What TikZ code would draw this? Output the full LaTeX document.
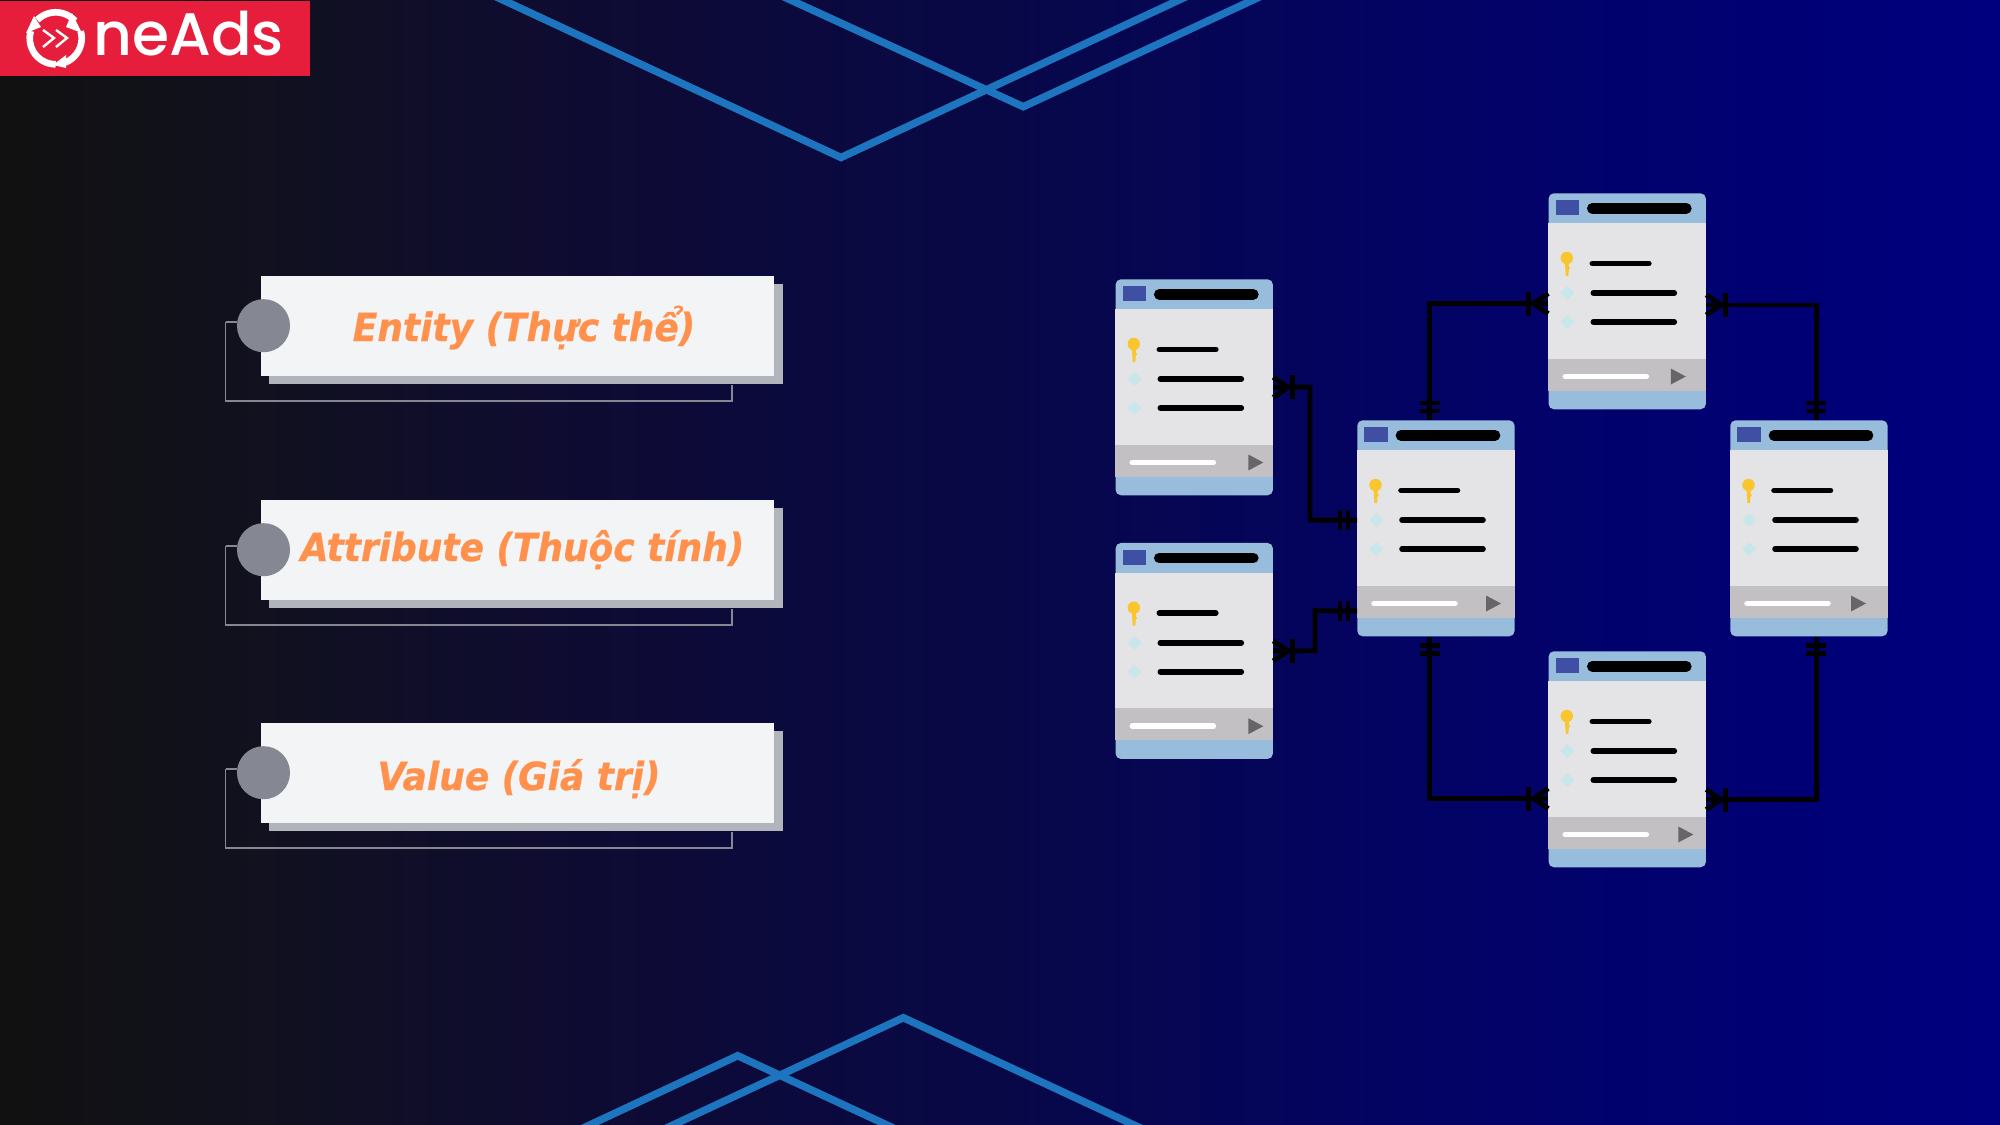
\documentclass[tikz,border=0pt]{standalone}
\usepackage{fontspec}
\usetikzlibrary{calc}
\newfontfamily\cardfont[FakeStretch=0.93,BoldItalicFeatures={FakeBold=0.7}]{DejaVu Sans}
\newfontfamily\logofont{Poppins Medium}

\definecolor{linkblue}{RGB}{28,117,190}
\definecolor{logored}{RGB}{230,30,60}
\definecolor{cardwhite}{RGB}{243,244,246}
\definecolor{cardshade}{RGB}{178,180,187}
\definecolor{cardgrey}{RGB}{133,136,147}
\definecolor{cardorange}{RGB}{255,145,77}
\definecolor{tabhead}{RGB}{151,188,220}
\definecolor{tabbody}{RGB}{228,227,229}
\definecolor{tabfoot}{RGB}{194,192,194}
\definecolor{tabsquare}{RGB}{63,79,163}
\definecolor{tabkey}{RGB}{251,197,45}
\definecolor{tabgem}{RGB}{200,231,234}
\definecolor{tabplay}{RGB}{102,102,102}

\pgfdeclarehorizontalshading{slidebg}{100bp}{
 rgb(0bp)=(0.067,0.067,0.067);
 rgb(25bp)=(0.067,0.067,0.067);
 rgb(31bp)=(0.067,0.067,0.118);
 rgb(40bp)=(0.055,0.043,0.2);
 rgb(50bp)=(0.031,0.031,0.28);
 rgb(60bp)=(0.012,0.012,0.39);
 rgb(70bp)=(0,0,0.46);
 rgb(75bp)=(0,0,0.5);
 rgb(100bp)=(0,0,0.5)}

\tikzset{
 deco/.style={draw=linkblue, line width=5.6pt, miter limit=10},
 cardbox/.style={fill=cardwhite, anchor=north west, inner sep=0pt, minimum width=385pt, minimum height=74.8pt},
 cardback/.style={fill=cardshade, anchor=north west, inner sep=0pt, minimum width=385pt, minimum height=75pt},
 cardtext/.style={anchor=base, inner sep=0pt, text=cardorange, font=\cardfont\bfseries\itshape\fontsize{29pt}{32pt}\selectfont},
 carddot/.style={fill=cardgrey, circle, inner sep=0pt, minimum size=39.8pt},
 cardline/.style={draw=cardgrey, line width=0.8pt},
 tabbox/.style={anchor=north west, inner sep=0pt, minimum width=118pt, minimum height=162pt, rounded corners=4pt, fill=tabhead},
 relline/.style={draw=black, line width=3.7pt},
 relbar/.style={draw=black, line width=3.6pt},
 relprong/.style={draw=black, line width=3.6pt},
}

% one table of the schema: name, left, top, offset of the play mark
\newcommand{\dbtable}[4]{
 \node[tabbox] (#1) at (#2,#3) {};
 \begin{scope}[shift={(#2,#3)}]
 \fill[tabbody] (0,30) rectangle (157.5,165.5);
 \fill[tabfoot] (0,165.5) rectangle (157.5,197.5);
 \fill[tabsquare] (7.3,7.3) rectangle (30.6,22);
 \draw[line width=8pt, line cap=round] (44,15.3) -- (138,15.3);
 \draw[line width=4.2pt, line cap=round] (44,70.5) -- (100.5,70.5);
 \draw[line width=4.2pt, line cap=round] (45,100) -- (126,100);
 \draw[line width=4.2pt, line cap=round] (45,129) -- (126,129);
 \draw[white, line width=4.2pt, line cap=round] (17,183.5) -- (98,183.5);
 \fill[tabplay] (#4,175.5) -- (#4+15,183.5) -- (#4,191.5) -- cycle;
 \fill[tabgem] (19,93) -- (26,100) -- (19,107) -- (12,100) -- cycle;
 \fill[tabgem] (19,122) -- (26,129) -- (19,136) -- (12,129) -- cycle;
 \fill[tabkey] (18.5,65) circle (6.2);
 \fill[tabkey] (16.5,69) -- (20.5,69) -- (20.5,74) -- (22,75) -- (20.5,76.5) -- (20,83) -- (17.5,83) -- cycle;
 \end{scope}
}
% the many side and the one side of a relation, turned away from the table
\newcommand{\manyend}[2]{
 \draw[relprong, shift={(#1)}, rotate=#2] (0,-10) -- (15,0) -- (0,10);
 \draw[relbar, shift={(#1)}, rotate=#2] (19.5,-12) -- (19.5,12);
}
\newcommand{\oneend}[2]{
 \draw[relbar, line width=3.2pt, shift={(#1)}, rotate=#2] (9,-10) -- (9,10);
 \draw[relbar, line width=3.2pt, shift={(#1)}, rotate=#2] (17,-10) -- (17,10);
}

\begin{document}
\begin{tikzpicture}[x=0.75pt,y=0.75pt,yscale=-1,xscale=1]
\useasboundingbox (0,0) rectangle (2000,1125);
\clip (0,0) rectangle (2000,1125);
\shade[shading=slidebg] (0,0) rectangle (2000,1125);

% Background lines
\draw[deco] (460,-20) -- (841,157.5) -- (1222,-20);
\draw[deco] (747,-20) -- (1023.3,106.7) -- (1296,-20);
\draw[deco] (547,1145) -- (737.7,1055.7) -- (930,1145);
\draw[deco] (630,1145) -- (903.3,1017.7) -- (1177,1145);

% Logo
\fill[logored] (0,1) rectangle (310,76);
\node[anchor=base west, inner sep=0pt, text=white, font=\logofont\fontsize{45pt}{50pt}\selectfont] (logoname) at (93,55) {neAds};
\draw[white, line width=5pt] (55.7,38.3) ++(-135:26) arc (-135:-42:26);
\fill[white] (72,13) -- (82,33) -- (66,27) -- cycle;
\draw[white, line width=5pt] (55.7,38.3) ++(-16:26) arc (-16:76:26);
\fill[white] (66,55) -- (66,68) -- (53,65) -- cycle;
\draw[white, line width=5pt] (55.7,38.3) ++(90:26) arc (90:196:26);
\fill[white] (26,33) -- (41,27) -- (34,16) -- cycle;
\draw[white, line width=1.8pt] (43,30) -- (54,38) -- (43,47);
\draw[white, line width=1.8pt] (56,30) -- (67,38) -- (56,47);

% Cards
\foreach \name/\top in {entity/276,attribute/500,value/723}{
 \coordinate (\name high) at (225.5,\top+46);
 \coordinate (\name low) at (732,\top+125);
 \node[cardback] (\name back) at (269,\top+8) {};
 \draw[cardline] (\name high) |- (\name low) -- (\name back.south -| \name low);
 \node[cardbox] (\name card) at (260.4,\top) {};
 \node[carddot] (\name dot) at (263.5,\top+49.7) {};
 \draw[cardline] (\name high) -- (\name high -| \name dot.west);
}
\node[cardtext] (entitytext) at (524,341) {Entity (Thực thể)};
\node[cardtext] (attributetext) at (522.5,561) {Attribute (Thuộc tính)};
\node[cardtext] (valuetext) at (519,790) {Value (Giá trị)};

% Tables
\dbtable{tabA}{1115.3}{279}{133}
\dbtable{tabB}{1115.3}{542.7}{133}
\dbtable{tabC}{1357}{420}{129}
\dbtable{tabD}{1548.3}{193}{122.5}
\dbtable{tabE}{1730}{420}{121}
\dbtable{tabF}{1548.3}{651}{130}

% Ends of the relations
\coordinate (ac) at ($(tabC.west)+(0,-8)$);
\coordinate (bc) at ($(tabC.west)+(0,82.7)$);
\coordinate (cd) at ($(tabC.north)+(-6,0)$);
\coordinate (cf) at ($(tabC.south)+(-6,0)$);
\coordinate (dc) at ($(tabD.west)+(0,2.3)$);
\coordinate (de) at ($(tabD.east)+(0,3.7)$);
\coordinate (ed) at ($(tabE.north)+(7.5,0)$);
\coordinate (ef) at ($(tabE.south)+(7.5,0)$);
\coordinate (fc) at ($(tabF.west)+(0,39.3)$);
\coordinate (fe) at ($(tabF.east)+(0,40.3)$);

% Relations
\draw[relline] (tabA.east) -- (1310,387) -- (1310,520) -- (ac);
\draw[relline] (tabB.east) -- (1315,650.7) -- (1315,610.7) -- (bc);
\draw[relline] (cd) |- (dc);
\draw[relline] (de) -| (ed);
\draw[relline] (cf) |- (fc);
\draw[relline] (fe) -| (ef);

\manyend{tabA.east}{0}
\manyend{tabB.east}{0}
\manyend{dc}{180}
\manyend{de}{0}
\manyend{fc}{180}
\manyend{fe}{0}
\oneend{ac}{180}
\oneend{bc}{180}
\oneend{cd}{-90}
\oneend{cf}{90}
\oneend{ed}{-90}
\oneend{ef}{90}
\end{tikzpicture}
\end{document}
